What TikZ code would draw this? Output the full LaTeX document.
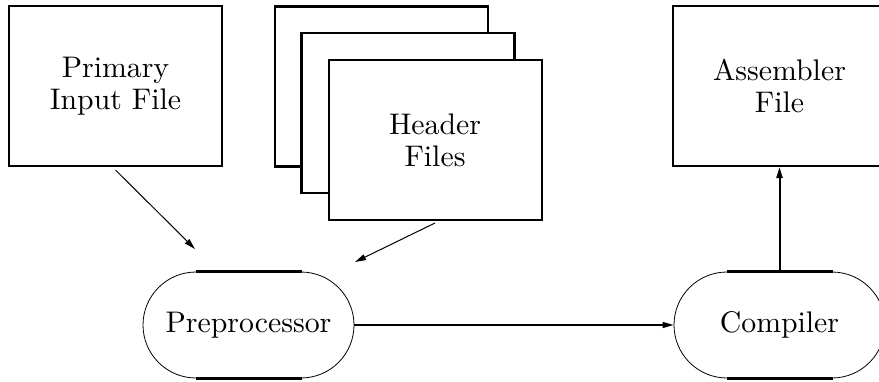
\documentclass[tikz,border=0pt]{standalone}
\usepackage{fontspec}
\setmainfont{lmroman10-regular}[Extension=.otf]
\usetikzlibrary{arrows.meta,shapes.misc}
\begin{document}
\begin{tikzpicture}[x=1pt,y=-1pt,
  txt/.style={font=\fontsize{29.8}{32}\selectfont, align=center},
  filebox/.style={draw, line width=2pt, fill=white, minimum width=213pt,
    minimum height=160pt, inner sep=0pt, txt},
  backbox/.style={filebox, line width=2.4pt},
  stadium/.style={rounded rectangle, draw, line width=0.8pt, minimum width=211pt,
    minimum height=106pt, inner sep=0pt, txt},
  rim/.style={line width=2.4pt},
  link/.style={-{Triangle[length=11pt,width=6pt]}},
]
\useasboundingbox (0,0) rectangle (879,381);
\clip (0,0) rectangle (879,381);

% input and output files
\node[filebox] (prim) at (115.5,86) {Primary\\Input File};
\node[filebox] (asm) at (779.5,86) {Assembler\\File};

% stack of header files
\node[backbox] (hdr3) at (381.5,86.5) {};
\node[backbox] (hdr2) at (408,113) {};
\node[filebox] (hdr) at (435,140) {Header\\Files};

% processing stages
\node[stadium] (pre) at (248.5,325) {Preprocessor};
\node[stadium] (comp) at (779.5,325) {Compiler};
\foreach \n in {pre,comp}{
  \draw[rim] ([xshift=-53pt]\n.north) -- ([xshift=53pt]\n.north);
  \draw[rim] ([xshift=-53pt]\n.south) -- ([xshift=53pt]\n.south);
}

% data flow
\coordinate (preA) at (195,249);
\coordinate (preB) at (355,262);
\draw[link, line width=1pt] ([yshift=-3pt]prim.south) -- (preA);
\draw[link, line width=1pt] ([yshift=-2pt]hdr.south) -- (preB);
\draw[link, line width=1.5pt] (pre.east) -- (comp.west);
\draw[link, line width=2pt] (comp.north) -- (asm.south);
\end{tikzpicture}
\end{document}
